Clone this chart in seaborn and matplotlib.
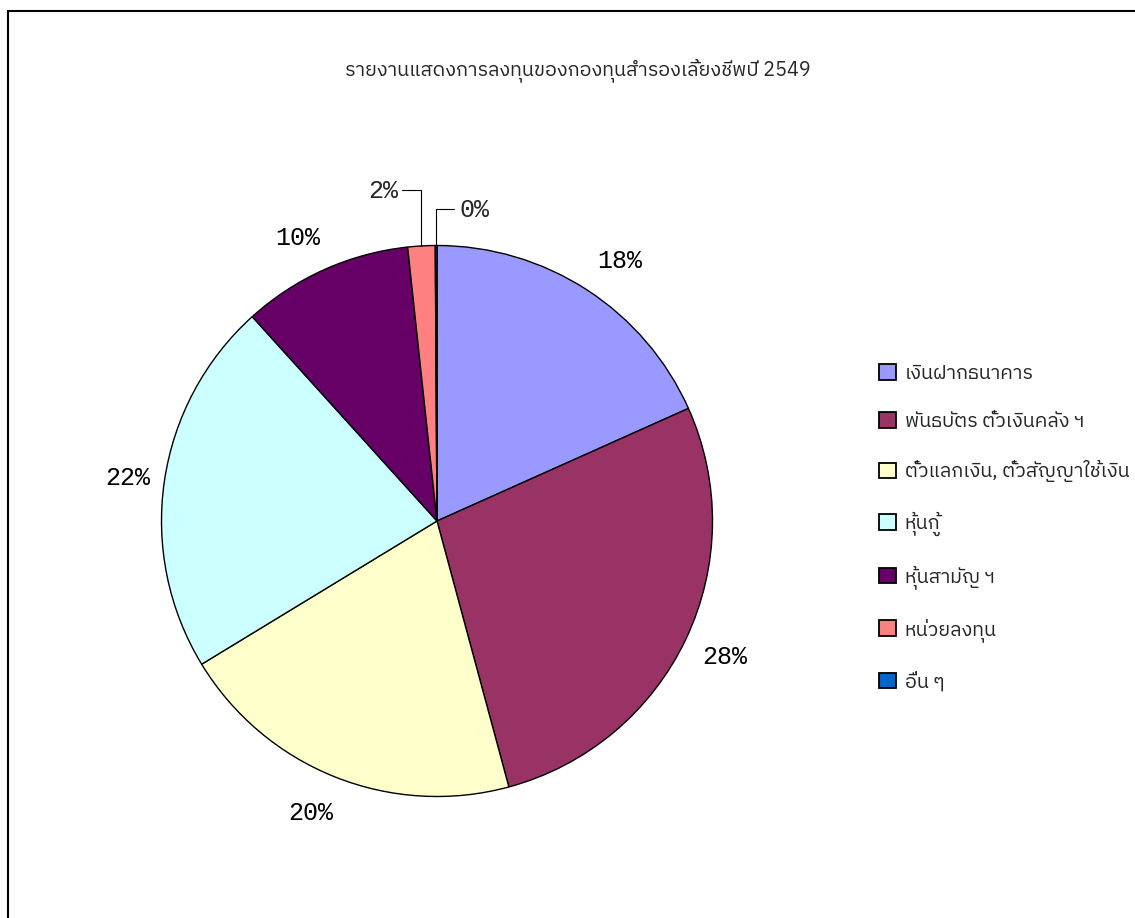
import numpy as np
import matplotlib
matplotlib.use("Agg")
import matplotlib.pyplot as plt
import seaborn as sns
from matplotlib import font_manager
from matplotlib.ft2font import FT2Font
from matplotlib.patches import Rectangle

# ---------------- data ----------------
title = "รายงานแสดงการลงทุนของกองทุนสำรองเลี้ยงชีพปี 2549"
categories = ["เงินฝากธนาคาร", "พันธบัตร ตั๋วเงินคลัง ฯ", "ตั๋วแลกเงิน, ตั๋วสัญญาใช้เงิน",
              "หุ้นกู้", "หุ้นสามัญ ฯ", "หน่วยลงทุน", "อื่น ๆ"]
shares = [18.3, 27.5, 20.5, 22.0, 10.0, 1.6, 0.1]
colors = ["#9999FF", "#993366", "#FFFFCC", "#CCFFFF", "#660066", "#FF8080", "#0066CC"]

sns.set_theme(style="white")

# find a font with Thai glyphs
thai_fams = []
for f in font_manager.fontManager.ttflist:
    try:
        ft = FT2Font(f.fname)
        if ft.get_char_index(0x0E23) and ft.get_char_index(0x0E33):
            if f.name not in thai_fams:
                thai_fams.append(f.name)
    except Exception:
        pass
pref = [n for n in thai_fams if "Thai" in n and "Looped" not in n] + thai_fams
fams = (pref[:1] if pref else []) + ["DejaVu Sans"]
plt.rcParams["font.family"] = fams
mono = ["Liberation Mono", "DejaVu Sans Mono"]

W, H = 1135, 918
fig = plt.figure(figsize=(W / 100, H / 100), dpi=100)
ax = fig.add_axes([0, 0, 1, 1])
cx, cy, r = 437, H - 521, 275.5

wedges, _ = ax.pie(shares, colors=colors, startangle=90, counterclock=False,
                   center=(cx, cy), radius=r,
                   wedgeprops=dict(edgecolor="black", linewidth=1.0))
ax.set_xlim(0, W)
ax.set_ylim(0, H)
ax.set_aspect("equal")
ax.axis("off")

# percentage labels (outside the pie, pushed sideways for wide boxes)
for i, w in enumerate(wedges):
    mid = np.deg2rad((w.theta1 + w.theta2) / 2)
    pct = f"{round(shares[i]):d}%"
    if shares[i] >= 5:
        dx = np.cos(mid) * r * (1.1325 + 0.1234 * np.sin(mid) ** 2)
        dy = np.sin(mid) * r * 1.1325
        ax.text(cx + dx, cy + dy - 2, pct, ha="center", va="center",
                family=mono, fontsize=18, color="black")

# small slices with leader lines
w = wedges[5]
mid = np.deg2rad((w.theta1 + w.theta2) / 2)
ex, ey = cx + r * np.cos(mid), cy + r * np.sin(mid)
ax.plot([ex, ex, ex - 19], [ey, ey + 56, ey + 56], color="black", lw=0.8)
ax.text(ex - 23, ey + 55, f"{round(shares[5]):d}%", ha="right", va="center",
        family=mono, fontsize=18)
w = wedges[6]
mid = np.deg2rad((w.theta1 + w.theta2) / 2)
ex, ey = cx + r * np.cos(mid), cy + r * np.sin(mid)
ax.plot([ex, ex, ex + 18], [ey, ey + 37, ey + 37], color="black", lw=0.8)
ax.text(ex + 23, ey + 36, f"{round(shares[6]):d}%", ha="left", va="center",
        family=mono, fontsize=18)

# title
ax.text(578, H - 70, title, ha="center", va="center", fontsize=14.2)

# legend
leg = ax.legend(wedges, categories, loc="upper left", bbox_to_anchor=(879 / W, 1 - 364 / H),
                frameon=False, fontsize=14.2, handlelength=0.85, handleheight=0.85,
                handletextpad=0.45, labelspacing=1.48, borderaxespad=0, borderpad=0)
for h in leg.legend_handles:
    h.set_edgecolor("black")
    h.set_linewidth(1.3)

# outer border
fig.patches.append(Rectangle((8 / W, -0.1), 1.2, 1 - 11 / H + 0.1, transform=fig.transFigure,
                             fill=False, edgecolor="black", linewidth=1.5))

fig.savefig("out.png", dpi=100)
